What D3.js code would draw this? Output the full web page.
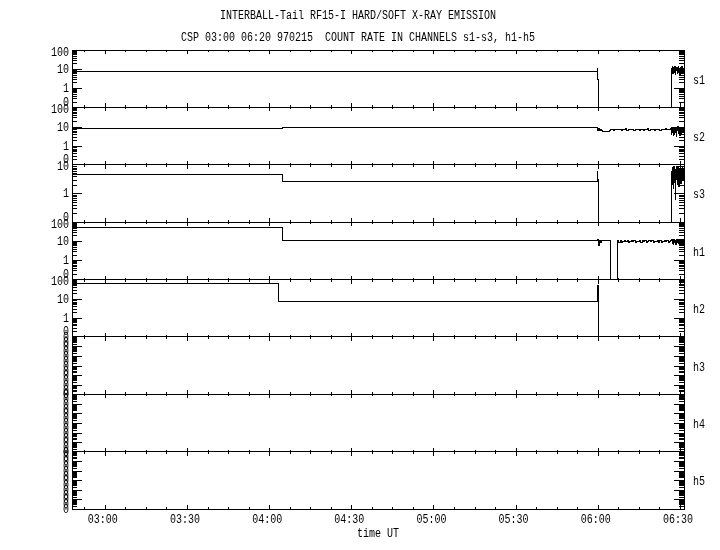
<!DOCTYPE html>
<html><head><meta charset="utf-8">
<script src="https://cdn.jsdelivr.net/npm/d3@7/dist/d3.min.js"></script>
<style>body{margin:0;background:#fff}svg{display:block;filter:grayscale(1)}text{white-space:pre}</style>
</head><body><svg id="c" width="720" height="550"></svg>
<script>
// ---------- data ----------
const titleLines = ["INTERBALL-Tail RF15-I HARD/SOFT X-RAY EMISSION",
                    "CSP 03:00 06:20 970215  COUNT RATE IN CHANNELS s1-s3, h1-h5"];
const xAxisTitle = "time UT";
const channels = ["s1","s2","s3","h1","h2","h3","h4","h5"];
const timeTickLabels = ["03:00","03:30","04:00","04:30","05:00","05:30","06:00","06:30"];
const axisStart = "02:48:00", axisEnd = "06:31:30";
const panelTop    = [100,100,10,100,100,1,1,1];
const panelBottom = [0.1,0.1,0.1,0.1,0.1,1e-6,1e-6,1e-6];
const yLabelValues3 = [100,10,1,0.1];
const yLabelText3   = ["100","10","1","0"];
const yLabelValuesS3 = [10,1,0.1];
const yLabelTextS3   = ["10","1","0"];
const yLabelValuesEmpty = [1,0.3,0.1,0.03,0.01,0.003,0.001,3e-4,1e-4,3e-5,1e-5,3e-6,1e-6];
const yLabelTextEmpty   = ["0","0","0","0","0","0","0","0","0","0","0","0","0"];

// s1
const s1StepTimes  = ["02:48:00","05:59:50","06:00:00","06:00:10"];
const s1StepValues = [7.6, 11, 3, 0];
const s1NoiseStart = "06:26:50";
const s1NoiseValues = [11,8,13,6,10,12,7,9,14,5,11,8,12,6,10,13,7,9,11,5,12,8,10,14,6,9,11,7,10];
// s2
const s2StepTimes  = ["02:48:00","04:05:00"];
const s2StepValues = [7.5, 8.8];
const s2NoiseAStart = "06:00:00";
const s2NoiseAValues = [6.0,7.8,6.3,7.2,5.9,5.6,5.6,5.6,5.6,5.6,5.6,5.6,5.6,6.2];
const s2NoiseBStart = "06:04:40";
const s2NoiseBValues = [6.8,7.2,6.5,7.0,7.4,6.6,6.9,7.3,6.2,7.1,6.8,7.5,6.4,7.0,6.6,7.2,6.9,6.3,7.4,6.7,7.1,6.5,
  7.3,6.8,6.0,7.2,6.9,7.6,6.4,7.0,6.7,7.3,6.5,7.1,6.8,7.4,6.2,6.9,7.2,6.6,7.5,6.8,7.0,7.3];
const s2NoiseCStart = "06:26:40";
const s2NoiseCValues = [8,4,9,5,7,3.5,8.5,6,4,9,5,7.5,3,8,6,9.5,4.5,7,5.5,8,3.5,9,6,4,8.5,5,7,6,8,5];
// s3
const s3StepTimes  = ["02:48:00","04:05:00","05:59:50","06:00:00","06:00:10"];
const s3StepValues = [4.5, 2.65, 5.6, 3, 0];
const s3NoiseStart = "06:26:50";
const s3NoiseValues = [6,2,8,3,7,1.5,9,2.5,5,0.6,7,3,8.5,2,6,4,9,1.8,7,3.5,8,2.2,6.5,4.5,9,3,7,5,8];
// h1
const h1StepTimes  = ["02:48:00","04:04:50"];
const h1StepValues = [54, 10.6];
const h1NoiseAStart = "06:00:00";
const h1NoiseAValues = [12,6,11,8.5,10.4,10.4,10.4,10.4,10.4,10.4,10.4,10.4,10.4,10.4];
const h1GapTimes  = ["06:04:36"];
const h1GapValues = [0];
const h1NoiseBStart = "06:07:12";
const h1NoiseBValues = [11.5,9,10.5,8.6,10,11,9.2,10.6,8.8,10.2,11.2,9.5,10.8,8.4,10,9.7,11,8.9,10.4,9.3,
  10.9,8.7,10.1,11.3,9.4,10.6,8.5,10.3,9.8,11.1,9,10.7,8.8,10.2,11.4,9.6,10.5,8.9,10,11];
const h1NoiseCStart = "06:27:00";
const h1NoiseCValues = [12,8,11,13,7,10,12.5,9,11,6.5,10,13,8.5,11,9,12,7.5,10.5,12,8,11.5,9.5,13,7,10,12,9,11];
// h2
const h2StepTimes  = ["02:48:00","04:03:25","05:59:50","06:00:10"];
const h2StepValues = [59, 7.5, 48, 0];
// h3-h5: no counts
const h3Values = [], h4Values = [], h5Values = [];

// ---------- helpers ----------
const parseT = d3.timeParse("%H:%M:%S");
const T = s => parseT(s.length === 5 ? s + ":00" : s);
const steps = (times, values) => times.map((t, i) => [T(t), values[i]]);
const segment = (start, stepSec, values) => {
  const t0 = +T(start);
  return values.map((v, i) => [new Date(t0 + i * stepSec * 1000), v]);
};
const channelData = {
  s1: [...steps(s1StepTimes, s1StepValues), ...segment(s1NoiseStart, 10, s1NoiseValues)],
  s2: [...steps(s2StepTimes, s2StepValues), ...segment(s2NoiseAStart, 20, s2NoiseAValues),
       ...segment(s2NoiseBStart, 30, s2NoiseBValues), ...segment(s2NoiseCStart, 10, s2NoiseCValues)],
  s3: [...steps(s3StepTimes, s3StepValues), ...segment(s3NoiseStart, 10, s3NoiseValues)],
  h1: [...steps(h1StepTimes, h1StepValues), ...segment(h1NoiseAStart, 20, h1NoiseAValues),
       ...steps(h1GapTimes, h1GapValues), ...segment(h1NoiseBStart, 30, h1NoiseBValues),
       ...segment(h1NoiseCStart, 10, h1NoiseCValues)],
  h2: steps(h2StepTimes, h2StepValues),
  h3: h3Values, h4: h4Values, h5: h5Values
};

// ---------- layout ----------
const svg = d3.select("#c");
const L = 72, R = 684, TOP = 50, BOT = 509;
const ph = (BOT - TOP) / channels.length;
const FONT = "'Liberation Mono','DejaVu Sans Mono',monospace";
const CW = 6;

function label(g, txt, x, y, anchor) {
  return g.append("text").attr("x", x).attr("y", y).attr("text-anchor", anchor || "start")
    .attr("font-family", FONT).attr("font-size", 12)
    .attr("textLength", txt.length * CW).attr("lengthAdjust", "spacingAndGlyphs")
    .attr("xml:space", "preserve")
    .attr("fill", "#000").text(txt);
}

label(svg, titleLines[0], 358, 19, "middle");
label(svg, titleLines[1], 358, 41, "middle");

const x = d3.scaleTime().domain([T(axisStart), T(axisEnd)]).range([L, R]);
const majorTimes = timeTickLabels.map(T);
// 7.5 min minor ticks
const minor75 = [];
for (let t = +T("02:52:30"); t <= +T(axisEnd); t += 450000) {
  const d = new Date(t);
  if (!(d.getMinutes() % 30 === 0 && d.getSeconds() === 0)) minor75.push(d);
}

const root = svg.append("g").attr("shape-rendering", "crispEdges");
const defs = svg.append("defs");

channels.forEach((ch, i) => {
  const top = TOP + i * ph, bot = top + ph;
  const y = d3.scaleLog().domain([panelBottom[i], panelTop[i]]).range([bot, top]);
  const g = root.append("g");

  // y ticks (log minor + decade major)
  const minor = [], major = [];
  let d0 = panelBottom[i];
  while (d0 < panelTop[i] * 0.999) {
    major.push(d0);
    for (let k = 2; k <= 9; k++) minor.push(d0 * k);
    d0 *= 10;
  }
  const yMinL = d3.axisRight(y).tickValues(minor).tickSize(5).tickFormat("");
  const yMajL = d3.axisRight(y).tickValues(major.slice(1)).tickSize(10).tickFormat("");
  const yMinR = d3.axisLeft(y).tickValues(minor).tickSize(5).tickFormat("");
  const yMajR = d3.axisLeft(y).tickValues(major.slice(1)).tickSize(10).tickFormat("");
  [[yMinL, L], [yMajL, L], [yMinR, R], [yMajR, R]].forEach(([ax, px]) => {
    const a = g.append("g").attr("transform", `translate(${px},0)`).call(ax);
    a.select(".domain").remove();
    a.selectAll("line").attr("stroke", "#000");
  });

  // x ticks top and bottom of panel
  [[d3.axisBottom, top], [d3.axisTop, bot]].forEach(([fn, py]) => {
    [[majorTimes, 4], [minor75, 2]].forEach(([vals, sz]) => {
      const a = g.append("g").attr("transform", `translate(0,${py})`)
        .call(fn(x).tickValues(vals).tickSize(sz).tickFormat(""));
      a.select(".domain").remove();
      a.selectAll("line").attr("stroke", "#000");
    });
  });

  // y labels
  let lv, lt;
  if (panelBottom[i] < 1e-3) { lv = yLabelValuesEmpty; lt = yLabelTextEmpty; }
  else if (panelTop[i] === 10) { lv = yLabelValuesS3; lt = yLabelTextS3; }
  else { lv = yLabelValues3; lt = yLabelText3; }
  lv.forEach((v, j) => {
    let off = 0;
    if (panelBottom[i] >= 1e-3) {
      if (v === panelTop[i]) off = 1.5;
      if (v === panelBottom[i]) off = -5.5;
    }
    label(g, lt[j], 69, y(v) + off + 4, "end");
  });

  // channel name
  label(g, ch, 693, (top + bot) / 2 + 5, "start");

  // data
  const data = channelData[ch];
  if (data.length) {
    const pts = data.concat([[T(axisEnd), data[data.length - 1][1]]]);
    defs.append("clipPath").attr("id", "cp" + i).append("rect")
      .attr("x", L).attr("y", top).attr("width", R - L).attr("height", ph);
    const line = d3.line().x(d => x(d[0]))
      .y(d => y(Math.max(d[1], panelBottom[i])))
      .curve(d3.curveStepAfter);
    g.append("path").datum(pts).attr("d", line)
      .attr("fill", "none").attr("stroke", "#000").attr("stroke-width", 1)
      .attr("clip-path", `url(#cp${i})`);
  }

  // panel frame
  g.append("rect").attr("x", L).attr("y", top).attr("width", R - L).attr("height", ph)
    .attr("fill", "none").attr("stroke", "#000").attr("stroke-width", 1);
});

// bottom time labels
majorTimes.forEach((t, i) => label(svg, timeTickLabels[i], x(t) - 2, 523, "middle"));
label(svg, xAxisTitle, (L + R) / 2, 537, "middle");
</script></body></html>
